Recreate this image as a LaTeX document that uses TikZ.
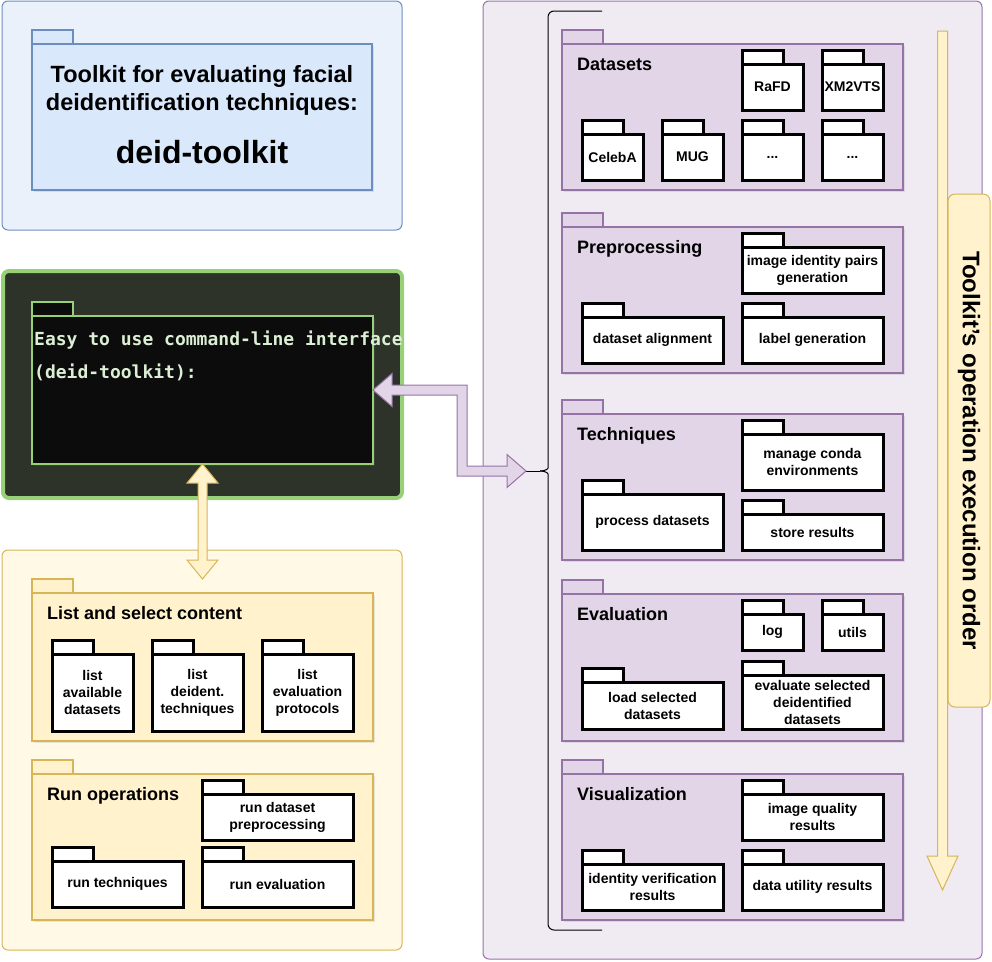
\documentclass[tikz,border=0pt]{standalone}
\usepackage{fontspec}
\setmainfont{Liberation Sans}
\newfontfamily\termfont{DejaVu Sans Mono Bold}
\usetikzlibrary{calc,shadows}

\definecolor{bluepanel}{HTML}{EBF1FB}
\definecolor{bluefill}{HTML}{DAE8FC}
\definecolor{blueline}{HTML}{6C8EBF}
\definecolor{greenpanel}{HTML}{2D3329}
\definecolor{greenline}{HTML}{97D077}
\definecolor{termfill}{HTML}{0C0C0C}
\definecolor{termtext}{HTML}{DCEFD5}
\definecolor{yellowpanel}{HTML}{FFF9E6}
\definecolor{yellowfill}{HTML}{FFF2CC}
\definecolor{yellowline}{HTML}{D6B656}
\definecolor{purplepanel}{HTML}{F0EAF3}
\definecolor{purplefill}{HTML}{E1D5E7}
\definecolor{purpleline}{HTML}{9673A6}

\newcommand{\threedots}{.{}.{}.}

\tikzset{
  panel/.style={rounded corners=6pt, line width=1pt},
  bigpkg/.style={draw, line width=2.6pt, inner sep=0pt, outer sep=0pt, anchor=north west,
    drop shadow={shadow xshift=2pt, shadow yshift=-2pt, opacity=0.18}},
  pkgtab/.style={line width=2.6pt},
  bluepkg/.style={fill=bluefill, draw=blueline},
  termpkg/.style={fill=termfill, draw=greenline},
  yellowpkg/.style={fill=yellowfill, draw=yellowline},
  purplepkg/.style={fill=purplefill, draw=purpleline},
  pkgtitle/.style={anchor=base west, inner sep=0pt, font=\fontsize{18}{22}\selectfont\bfseries},
  subpkg/.style={draw=black, fill=white, line width=3pt, inner sep=1pt, outer sep=0pt,
    anchor=north west, align=center, font=\fontsize{14}{17}\selectfont\bfseries,
    drop shadow={shadow xshift=2pt, shadow yshift=-2pt, opacity=0.18}},
  subtab/.style={draw=black, fill=white, line width=3pt},
  termline/.style={anchor=base west, inner sep=0pt, text=termtext,
    font=\termfont\fontsize{18}{20}\selectfont},
  yellowarrow/.style={fill=yellowfill, draw=yellowline, line width=1pt},
  purplearrow/.style={fill=purplefill, draw=purpleline, line width=1pt},
  orderbox/.style={draw=yellowline, fill=yellowfill, line width=1pt, rounded corners=7pt,
    font=\fontsize{24}{28}\selectfont\bfseries},
}

\begin{document}
\begin{tikzpicture}[x=1pt,y=-1pt]
\useasboundingbox (0,0) rectangle (992,961);

% Panels
\draw[panel, fill=bluepanel, draw=blueline] (2,1) rectangle (402,230);
\draw[panel, line width=4pt, fill=greenpanel, draw=greenline] (3,271) rectangle (402,498);
\draw[panel, fill=yellowpanel, draw=yellowline] (2,550) rectangle (402,950);
\draw[panel, fill=purplepanel, draw=purpleline] (483,1) rectangle (982,959);

% Title package
\node[bigpkg, bluepkg, minimum width=340, minimum height=146] (toolkit) at (32,44) {};
\draw[pkgtab, bluepkg] (toolkit.north west) rectangle ++(41,-14);
\node[font=\fontsize{23.5}{28}\selectfont\bfseries, align=center] (toolkit-title) at (202,90)
  {Toolkit for evaluating facial\\deidentification techniques:};
\node[font=\fontsize{32}{38}\selectfont\bfseries] (toolkit-name) at (202,152) {deid-toolkit};

% Command-line package
\node[bigpkg, termpkg, minimum width=341, minimum height=148] (term) at (32,316) {};
\draw[pkgtab, termpkg] (term.north west) rectangle ++(41,-14);
\node[termline] (term-line1) at (34,345) {Easy to use command-line interface};
\node[termline] (term-line2) at (34,378) {(deid-toolkit):};

% Packages with a title
\foreach \n/\xa/\ya/\xb/\yb/\s/\t in {
    list/32/593/373/741/yellowpkg/List and select content,
    runops/32/774/373/920/yellowpkg/Run operations,
    datasets/562/44/903/190/purplepkg/Datasets,
    prep/562/227/903/373/purplepkg/Preprocessing,
    tech/562/414/903/560/purplepkg/Techniques,
    eval/562/594/903/741/purplepkg/Evaluation,
    vis/562/774/903/920/purplepkg/Visualization} {
    \node[bigpkg, \s, minimum width={(\xb-\xa)*1pt}, minimum height={(\yb-\ya)*1pt}] (\n) at (\xa,\ya) {};
    \draw[pkgtab, \s] (\n.north west) rectangle ++(41,-14);
    \node[pkgtitle] (\n-title) at ($(\n.north west)+(15,26)$) {\t};
}

% Inner packages
\foreach \n/\xa/\ya/\xb/\yb/\t in {
    lstdata/52/654/133/731/{list\\available\\datasets},
    lsttech/152/654/243/731/{list\\deident.\\techniques},
    lstprot/262/654/353/731/{list\\evaluation\\protocols},
    rundata/202/794/353/840/{run dataset\\preprocessing},
    runtech/52/861/183/907/run techniques,
    runeval/202/861/353/907/run evaluation,
    rafd/742/64/803/110/RaFD,
    xmvts/822/64/883/110/XM2VTS,
    celeba/582/134/643/180/CelebA,
    mug/662/134/723/180/MUG,
    more1/742/134/803/180/\threedots,
    more2/822/134/883/180/\threedots,
    pairs/742/247/883/293/{image identity pairs\\generation},
    align/582/317/723/363/dataset alignment,
    labels/742/317/883/363/label generation,
    conda/742/434/883/490/{manage conda\\environments},
    process/582/494/723/550/process datasets,
    store/742/514/883/550/store results,
    log/742/614/803/650/log,
    utils/822/614/883/650/utils,
    load/582/682/723/729/{load selected\\datasets},
    evalsel/742/675/883/729/{evaluate selected\\deidentified\\datasets},
    quality/742/794/883/840/{image quality\\results},
    idver/582/864/723/910/{identity verification\\results},
    utility/742/864/883/910/data utility results} {
    \node[subpkg, minimum width={(\xb-\xa)*1pt}, minimum height={(\yb-\ya)*1pt}] (\n) at (\xa,\ya) {\t};
    \draw[subtab] (\n.north west) rectangle ++(41,-14);
}

% Brace over the operations
\coordinate (bracetip) at (540,471);
\coordinate (arrowend) at (526,471);
\draw[line width=1pt, rounded corners=6pt] (bracetip) .. controls (545,471) and (548,469) .. (548,462) -- (548,11) -- (602,11);
\draw[line width=1pt, rounded corners=6pt] (bracetip) .. controls (545,471) and (548,473) .. (548,480) -- (548,930) -- (602,930);
\draw[line width=1pt] (arrowend) -- (bracetip);

% Arrow between command line and operations
\coordinate (pbend) at ($(term.east)+(89,0)$);
\coordinate (pcorner) at (pbend |- arrowend);
\draw[purplearrow] (term.east)
  -- ($(term.east)+(19,-16.5)$) -- ($(term.east)+(19,-5)$)
  -- ($(pbend)+(5,-5)$) -- ($(pcorner)+(5,-5)$)
  -- ($(arrowend)+(-19,-5)$) -- ($(arrowend)+(-19,-16.5)$)
  -- (arrowend)
  -- ($(arrowend)+(-19,16.5)$) -- ($(arrowend)+(-19,5)$)
  -- ($(pcorner)+(-5,5)$) -- ($(pbend)+(-5,5)$)
  -- ($(term.east)+(19,5)$) -- ($(term.east)+(19,16.5)$) -- cycle;

% Arrow between command line and content
\coordinate (ytip) at ($(list.north)+(0,-14)$);
\draw[yellowarrow] (term.south)
  -- ($(term.south)+(15.5,19)$) -- ($(term.south)+(4.5,19)$)
  -- ($(ytip)+(4.5,-19)$) -- ($(ytip)+(15.5,-19)$)
  -- (ytip)
  -- ($(ytip)+(-15.5,-19)$) -- ($(ytip)+(-4.5,-19)$)
  -- ($(term.south)+(-4.5,19)$) -- ($(term.south)+(-15.5,19)$) -- cycle;

% Execution order
\coordinate (ordtop) at (942.5,31);
\coordinate (ordtip) at (942.5,890);
\draw[yellowarrow] ($(ordtop)+(-5,0)$) -- ($(ordtop)+(5,0)$)
  -- ($(ordtip)+(5,-34)$) -- ($(ordtip)+(15.5,-34)$)
  -- (ordtip)
  -- ($(ordtip)+(-15.5,-34)$) -- ($(ordtip)+(-5,-34)$) -- cycle;
\node[orderbox, rotate=-90, minimum width=513, minimum height=42] (order) at (969,450.5)
  {Toolkit{\char39}s operation execution order};

\end{tikzpicture}
\end{document}
